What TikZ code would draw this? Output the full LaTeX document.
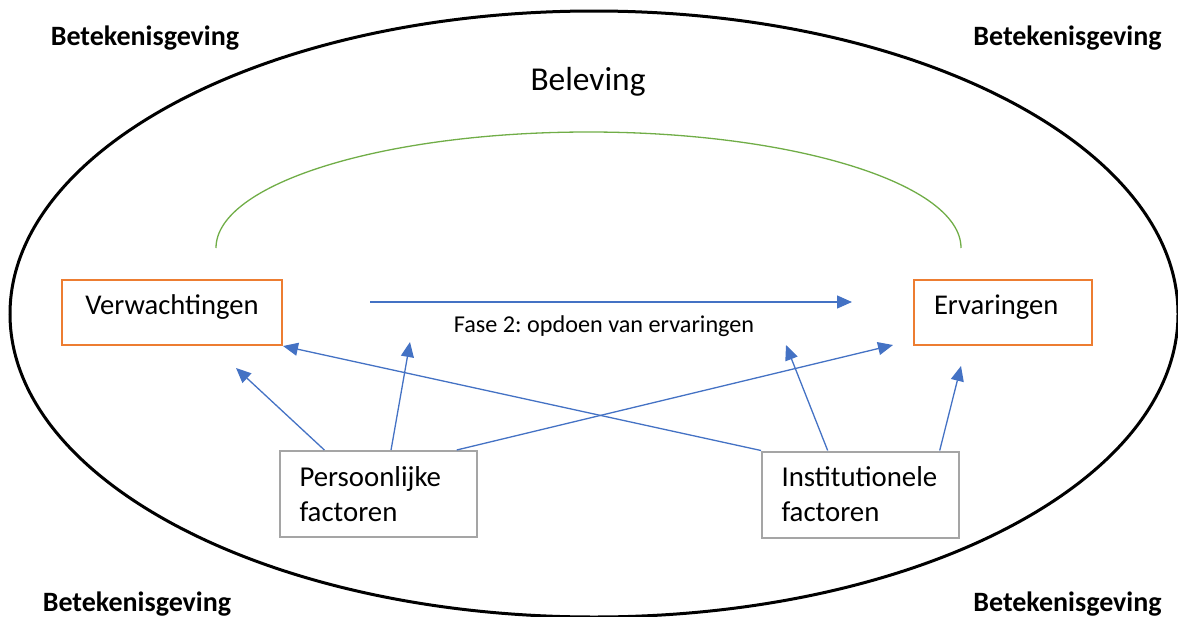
\documentclass[tikz,border=0pt]{standalone}
\usepackage{fontspec}
\setmainfont{Carlito}
\frenchspacing
\usetikzlibrary{arrows.meta,calc}
\definecolor{cblue}{HTML}{4472C4}
\definecolor{corange}{HTML}{ED7D31}
\definecolor{cgreen}{HTML}{70AD47}
\definecolor{cgrey}{HTML}{A5A5A5}
\tikzset{
  bet/.style={font=\bfseries\fontsize{28}{32}\selectfont, anchor=base, inner sep=0pt},
  obox/.style={draw=corange, line width=2pt, minimum height=65pt, inner ysep=0pt,
    text height=0.72em, text depth=0.34em,
    font=\fontsize{28.6}{34}\selectfont},
  gbox/.style={draw=cgrey, line width=2pt, minimum width=197pt, minimum height=86pt,
    inner xsep=19.5pt, inner ysep=0pt, text width=158pt, align=left,
    font=\fontsize{28.8}{35}\selectfont},
  conn/.style={cblue, line width=1.3pt, -{Triangle[length=15pt,width=13pt]}}
}
\begin{document}
\begin{tikzpicture}[x=1pt,y=-1pt]
\useasboundingbox (0,0) rectangle (1178,616);
% outer ellipse
\draw[line width=3pt] (594,314) ellipse [x radius=584, y radius=303];
% corner labels
\node[bet] (tl) at (145,45) {Betekenisgeving};
\node[bet] (tr) at (1067.5,45) {Betekenisgeving};
\node[bet] (bl) at (137,611) {Betekenisgeving};
\node[bet] (br) at (1067.5,611) {Betekenisgeving};
\node[anchor=base, inner sep=0pt, font=\fontsize{33.4}{38}\selectfont] (bel) at (588,90) {Beleving};
% green arc
\coordinate (ga) at (216,248);
\draw[cgreen, line width=1.3pt] (ga) arc[start angle=180, end angle=360, x radius=372.5, y radius=116];
% boxes
\node[obox, minimum width=220pt] (ver) at (172,312.5) {Verwachtingen};
\node[obox, minimum width=178pt, inner xsep=20pt, text width=138pt, align=left] (erv) at (1003,312.5) {Ervaringen};
\node[gbox] (pf) at (378.5,494) {Persoonlijke\\factoren};
\node[gbox] (inf) at (860.5,494.5) {Institutionele\\factoren};
% horizontal arrow
\coordinate (hs) at (370,302);
\coordinate (he) at (852,302);
\draw[conn] (hs) -- (he);
\node[anchor=base, inner sep=0pt, font=\fontsize{24.2}{29}\selectfont] (fase) at (604,332) {Fase 2: opdoen van ervaringen};
% arrow tips
\coordinate (t1) at (236,368);
\coordinate (t2) at (410,342);
\coordinate (t3) at (893,345);
\coordinate (t6) at (786,345);
\coordinate (t7) at (961,366);
\draw[conn] ($(pf.north west)!0.228!(pf.north east)$) -- (t1);
\draw[conn] ($(pf.north west)!0.563!(pf.north east)$) -- (t2);
\draw[conn] ($(pf.north west)!0.893!(pf.north east)$) -- (t3);
\draw[conn] (inf.north west) -- (ver.south east);
\draw[conn] ($(inf.north west)!0.335!(inf.north east)$) -- (t6);
\draw[conn] ($(inf.north west)!0.898!(inf.north east)$) -- (t7);
\end{tikzpicture}
\end{document}
